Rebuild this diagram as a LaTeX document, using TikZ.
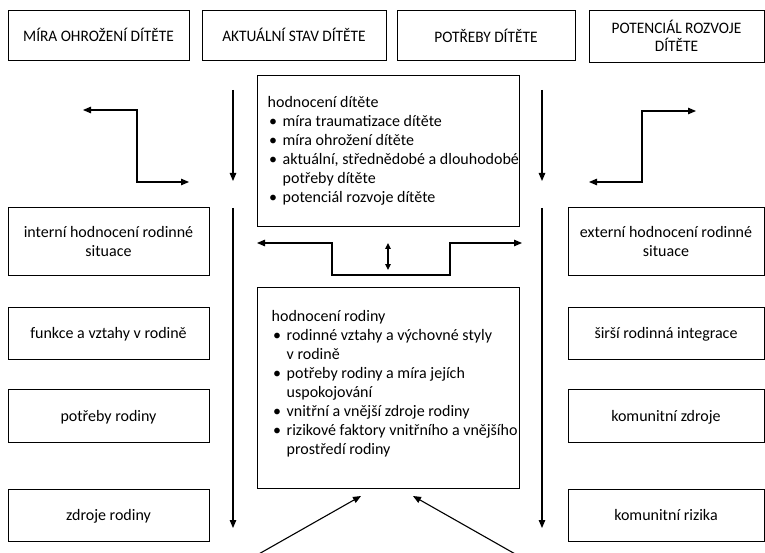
\documentclass[tikz,border=0pt]{standalone}
\usepackage{fontspec}
\setmainfont{Carlito}
\usetikzlibrary{arrows.meta}
\newcommand\blt{\makebox[15pt][l]{\hspace{1.5pt}\textbullet}}
\newcommand\hng{\hspace*{15pt}}
\newcommand\firstline{\rule{0pt}{12pt}}
\newcommand\capsline[1]{\scalebox{0.96}[1]{#1}}
\begin{document}
\begin{tikzpicture}[x=1pt,y=-1pt,
  txt/.style={font=\fontsize{16}{19}\selectfont},
  box/.style={draw, line width=0.9pt, inner sep=2pt, align=center, txt},
  lowbox/.style={box, text depth=0pt},
  capbox/.style={box, font=\fontsize{16}{18}\selectfont},
  listtext/.style={anchor=north west, inner sep=0pt, align=left, font=\fontsize{16}{19}\selectfont},
  arr/.style={line width=1.1pt, -{Triangle[length=8pt,width=6.5pt]}},
  darr/.style={line width=1.1pt, {Triangle[length=8pt,width=6.5pt]}-{Triangle[length=8pt,width=6.5pt]}},
  sdarr/.style={line width=1.1pt, {Triangle[length=6pt,width=5.5pt]}-{Triangle[length=6pt,width=5.5pt]}}]
\useasboundingbox (0,0) rectangle (765,553);

% top row
\node[capbox, minimum width=181pt, minimum height=50pt] (mira) at (98.5,35) {\capsline{MÍRA OHROŽENÍ DÍTĚTE}};
\node[capbox, minimum width=184pt, minimum height=50pt] (stav) at (294,35) {\capsline{AKTUÁLNÍ STAV DÍTĚTE}};
\node[capbox, minimum width=178pt, minimum height=50pt] (potreby) at (486,35.5) {\capsline{POTŘEBY DÍTĚTE}};
\node[capbox, minimum width=175pt, minimum height=52pt] (potencial) at (676.5,36) {\capsline{POTENCIÁL ROZVOJE}\\\capsline{DÍTĚTE}};

% left column
\node[lowbox, minimum width=201pt, minimum height=68pt] (interni) at (108.5,241) {interní hodnocení rodinné\\situace};
\node[lowbox, minimum width=201pt, minimum height=52pt] (funkce) at (108.5,333) {funkce a vztahy v rodině};
\node[lowbox, minimum width=201pt, minimum height=53pt] (potrebyR) at (108.5,415.5) {potřeby rodiny};
\node[lowbox, minimum width=201pt, minimum height=52pt] (zdroje) at (108.5,515) {zdroje rodiny};

% right column
\node[lowbox, minimum width=196pt, minimum height=68pt] (externi) at (666,241) {externí hodnocení rodinné\\situace};
\node[lowbox, minimum width=196pt, minimum height=52pt] (sirsi) at (666,333) {širší rodinná integrace};
\node[lowbox, minimum width=196pt, minimum height=53pt] (komZdroje) at (666,415.5) {komunitní zdroje};
\node[lowbox, minimum width=196pt, minimum height=52pt] (komRizika) at (666,515) {komunitní rizika};

% central boxes
\node[box, minimum width=262pt, minimum height=151pt] (dite) at (388,150.5) {};
\node[box, minimum width=262pt, minimum height=201pt] (rodina) at (388,387.5) {};

\node[listtext] (diteText) at (267.5,95.5) {\firstline hodnocení dítěte\\
\blt míra traumatizace dítěte\\
\blt míra ohrožení dítěte\\
\blt aktuální, střednědobé a dlouhodobé\\
\hng potřeby dítěte\\
\blt potenciál rozvoje dítěte};

\node[listtext] (rodinaText) at (271.5,309.5) {\firstline hodnocení rodiny\\
\blt rodinné vztahy a výchovné styly\\
\hng v rodině\\
\blt potřeby rodiny a míra jejích\\
\hng uspokojování\\
\blt vnitřní a vnější zdroje rodiny\\
\blt rizikové faktory vnitřního a vnějšího\\
\hng prostředí rodiny};

% arrow end points
\coordinate (lTopS) at (233,90);   \coordinate (lTopE) at (233,181);
\coordinate (lLowS) at (233,208);  \coordinate (lLowE) at (233,528);
\coordinate (rTopS) at (542,90);   \coordinate (rTopE) at (542,181);
\coordinate (rLowS) at (542,208);  \coordinate (rLowE) at (542,528);

\coordinate (lBendA) at (83,110);  \coordinate (lBendB) at (189,182);
\coordinate (rBendA) at (696,111); \coordinate (rBendB) at (589,182);

\coordinate (mLeft) at (257,243);  \coordinate (mRight) at (522,243);
\coordinate (dUp) at (388,243);    \coordinate (dDown) at (388,270);

\coordinate (dlStart) at (257,555); \coordinate (dlEnd) at (361,496);
\coordinate (drStart) at (517,555); \coordinate (drEnd) at (413,496);

% vertical flows
\draw[arr] (lTopS) -- (lTopE);
\draw[arr] (lLowS) -- (lLowE);
\draw[arr] (rTopS) -- (rTopE);
\draw[arr] (rLowS) -- (rLowE);

% stepped connectors
\draw[darr] (lBendA) -- (137,110) -- (137,182) -- (lBendB);
\draw[darr] (rBendA) -- (642,111) -- (642,182) -- (rBendB);
\draw[darr] (mLeft) -- (332,243) -- (332,275) -- (450,275) -- (450,243) -- (mRight);
\draw[sdarr] (dUp) -- (dDown);

% diagonal inflows
\draw[arr] (dlStart) -- (dlEnd);
\draw[arr] (drStart) -- (drEnd);
\end{tikzpicture}
\end{document}
